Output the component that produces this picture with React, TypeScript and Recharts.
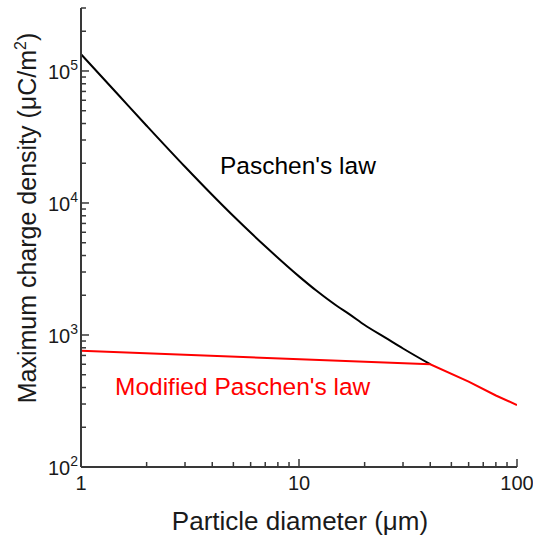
import React from 'react';
import { LineChart, Line, XAxis, YAxis } from 'recharts';

// values (log-log)
const paschenX = [1, 1.5, 2, 3, 5, 7, 10, 12, 15, 17, 20, 25, 30, 40];
const paschenY = [134000, 64600, 38500, 18800, 7960, 4700, 2780, 2170, 1650, 1440, 1190, 950, 790, 600];
const modifiedX = [1, 40, 60, 80, 100];
const modifiedY = [761, 600, 443, 348, 295];

const xMajor = [1, 10, 100];
const xTicks = [1, 2, 3, 4, 5, 6, 7, 8, 9, 10, 20, 30, 40, 50, 60, 70, 80, 90, 100];
const yMajor = [100, 1000, 10000, 100000];
const yTicks = [
    100, 200, 300, 400, 500, 600, 700, 800, 900,
    1000, 2000, 3000, 4000, 5000, 6000, 7000, 8000, 9000,
    10000, 20000, 30000, 40000, 50000, 60000, 70000, 80000, 90000,
    100000, 200000, 300000,
];

const paschenData = paschenX.map((x, i) => ({ x, y: paschenY[i] }));
const modifiedData = modifiedX.map((x, i) => ({ x, y: modifiedY[i] }));

const FRAME = '#383838';
const FONT = '"Liberation Sans", Arial, sans-serif';
const TEXT = '#1a1a1a';

const BottomTick = ({ x, y, payload }: any) => {
    const major = xMajor.includes(payload.value);
    return (
        <g>
            <line x1={x} x2={x} y1={y} y2={y - (major ? 8 : 5)} stroke={FRAME} strokeWidth={1.5} />
            {major && (
                <text x={x} y={y + 23} textAnchor="middle" fontSize={20} fill={TEXT} fontFamily={FONT}>
                    {payload.value}
                </text>
            )}
        </g>
    );
};

const TopTick = ({ x, y, payload }: any) => {
    const major = xMajor.includes(payload.value);
    return <line x1={x} x2={x} y1={y} y2={y + (major ? 8 : 5)} stroke={FRAME} strokeWidth={1.5} />;
};

const LeftTick = ({ x, y, payload }: any) => {
    const major = yMajor.includes(payload.value);
    const exp = Math.round(Math.log10(payload.value));
    return (
        <g>
            <line x1={x} x2={x + (major ? 8 : 5)} y1={y} y2={y} stroke={FRAME} strokeWidth={1.5} />
            {major && (
                <text x={x - 3} y={y + 8} textAnchor="end" fontSize={20} fill={TEXT} fontFamily={FONT}>
                    10
                    <tspan fontSize={14} dy={-9}>{exp}</tspan>
                </text>
            )}
        </g>
    );
};

const RightTick = ({ x, y, payload }: any) => {
    const major = yMajor.includes(payload.value);
    return <line x1={x} x2={x - (major ? 8 : 5)} y1={y} y2={y} stroke={FRAME} strokeWidth={1.5} />;
};

const labelStyle: React.CSSProperties = {
    position: 'absolute',
    fontFamily: FONT,
    fontSize: 24.5,
    whiteSpace: 'nowrap',
    lineHeight: 1,
};

export default function App() {
    return (
        <div
            style={{
                position: 'fixed',
                left: 0,
                top: 0,
                width: 533,
                height: 539,
                overflow: 'hidden',
                background: '#fff',
            }}
        >
            <LineChart width={533} height={539} margin={{ top: 8, right: 16, left: 0, bottom: 0 }}>
                <XAxis
                    xAxisId="bottom"
                    dataKey="x"
                    type="number"
                    scale="log"
                    domain={[1, 100]}
                    ticks={xTicks}
                    interval={0}
                    allowDataOverflow
                    height={72}
                    tickSize={0}
                    tickMargin={0}
                    tick={<BottomTick />}
                    axisLine={{ stroke: FRAME, strokeWidth: 2 }}
                />
                <XAxis
                    xAxisId="top"
                    orientation="top"
                    dataKey="x"
                    type="number"
                    scale="log"
                    domain={[1, 100]}
                    ticks={xTicks}
                    interval={0}
                    allowDataOverflow
                    height={0}
                    tickSize={0}
                    tickMargin={0}
                    tick={<TopTick />}
                    axisLine={{ stroke: FRAME, strokeWidth: 2 }}
                />
                <YAxis
                    yAxisId="left"
                    type="number"
                    scale="log"
                    domain={[100, 300000]}
                    ticks={yTicks}
                    interval={0}
                    allowDataOverflow
                    width={81}
                    tickSize={0}
                    tickMargin={0}
                    tick={<LeftTick />}
                    axisLine={{ stroke: FRAME, strokeWidth: 2 }}
                />
                <YAxis
                    yAxisId="right"
                    orientation="right"
                    type="number"
                    scale="log"
                    domain={[100, 300000]}
                    ticks={yTicks}
                    interval={0}
                    allowDataOverflow
                    width={0}
                    tickSize={0}
                    tickMargin={0}
                    tick={<RightTick />}
                    axisLine={{ stroke: FRAME, strokeWidth: 2 }}
                />
                <Line
                    xAxisId="bottom"
                    yAxisId="left"
                    data={paschenData}
                    dataKey="y"
                    type="monotone"
                    stroke="#000"
                    strokeWidth={2}
                    dot={false}
                    isAnimationActive={false}
                />
                <Line
                    xAxisId="bottom"
                    yAxisId="left"
                    data={modifiedData}
                    dataKey="y"
                    type="linear"
                    stroke="#ff0000"
                    strokeWidth={2}
                    dot={false}
                    isAnimationActive={false}
                />
            </LineChart>
            <div style={{ ...labelStyle, left: 220, top: 154, color: '#000' }}>Paschen's law</div>
            <div style={{ ...labelStyle, left: 115, top: 375, color: '#ff0000' }}>Modified Paschen's law</div>
            <div
                style={{
                    ...labelStyle,
                    fontSize: 26,
                    color: TEXT,
                    left: 300,
                    top: 508,
                    transform: 'translateX(-50%)',
                }}
            >
                Particle diameter (μm)
            </div>
            <div
                style={{
                    ...labelStyle,
                    fontSize: 25,
                    color: TEXT,
                    left: 27,
                    top: 218,
                    transform: 'translate(-50%, -50%) rotate(-90deg)',
                }}
            >
                Maximum charge density (μC/m<sup style={{ fontSize: 16, verticalAlign: 'super', lineHeight: 0 }}>2</sup>)
            </div>
        </div>
    );
}
